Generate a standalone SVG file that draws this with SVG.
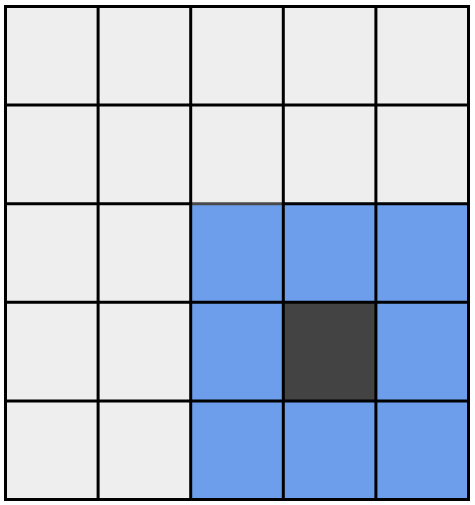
<svg xmlns="http://www.w3.org/2000/svg" width="475" height="505" viewBox="0 0 475 505">
<style>
.l{fill:#eeeeee}
.b{fill:#6d9eeb}
.d{fill:#434343}
.g{stroke:#000;stroke-width:3;fill:none}
</style>
<rect width="475" height="505" fill="#ffffff"/>
<g id="cells">
<g id="r0">
<rect class="l" x="5.5" y="6.5" width="92.6" height="98.6"/>
<rect class="l" x="98.1" y="6.5" width="92.6" height="98.6"/>
<rect class="l" x="190.7" y="6.5" width="92.6" height="98.6"/>
<rect class="l" x="283.3" y="6.5" width="92.6" height="98.6"/>
<rect class="l" x="375.9" y="6.5" width="92.6" height="98.6"/>
</g>
<g id="r1">
<rect class="l" x="5.5" y="105.1" width="92.6" height="98.6"/>
<rect class="l" x="98.1" y="105.1" width="92.6" height="98.6"/>
<rect class="l" x="190.7" y="105.1" width="92.6" height="98.6"/>
<rect class="l" x="283.3" y="105.1" width="92.6" height="98.6"/>
<rect class="l" x="375.9" y="105.1" width="92.6" height="98.6"/>
</g>
<g id="r2">
<rect class="l" x="5.5" y="203.7" width="92.6" height="98.6"/>
<rect class="l" x="98.1" y="203.7" width="92.6" height="98.6"/>
<rect class="b" x="190.7" y="203.7" width="92.6" height="98.6"/>
<rect class="b" x="283.3" y="203.7" width="92.6" height="98.6"/>
<rect class="b" x="375.9" y="203.7" width="92.6" height="98.6"/>
</g>
<g id="r3">
<rect class="l" x="5.5" y="302.3" width="92.6" height="98.6"/>
<rect class="l" x="98.1" y="302.3" width="92.6" height="98.6"/>
<rect class="b" x="190.7" y="302.3" width="92.6" height="98.6"/>
<rect class="d" x="283.3" y="302.3" width="92.6" height="98.6"/>
<rect class="b" x="375.9" y="302.3" width="92.6" height="98.6"/>
</g>
<g id="r4">
<rect class="l" x="5.5" y="400.9" width="92.6" height="98.6"/>
<rect class="l" x="98.1" y="400.9" width="92.6" height="98.6"/>
<rect class="b" x="190.7" y="400.9" width="92.6" height="98.6"/>
<rect class="b" x="283.3" y="400.9" width="92.6" height="98.6"/>
<rect class="b" x="375.9" y="400.9" width="92.6" height="98.6"/>
</g>
</g>
<g id="grid" class="g">
<path d="M190.7 203.7H283.3" stroke="#4a4a4a"/>
<path d="M4 6.5H470 M4 105.1H470 M4 203.7H190.7 M283.3 203.7H470 M4 302.3H470 M4 400.9H470 M4 499.5H470"/>
<path d="M5.5 5V501 M98.1 5V501 M190.7 5V501 M283.3 5V501 M375.9 5V501 M468.5 5V501"/>
</g>
</svg>
